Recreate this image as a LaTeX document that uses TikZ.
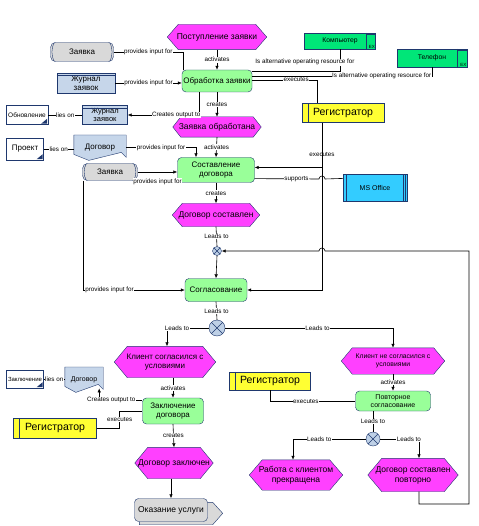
\documentclass[tikz,border=0pt]{standalone}
\usepackage{fontspec}
\setmainfont{Liberation Sans}
\usetikzlibrary{positioning,arrows.meta,calc,backgrounds}

\definecolor{aribord}{RGB}{31,56,110}
\definecolor{evfill}{RGB}{255,64,255}
\definecolor{fnfill}{RGB}{153,255,153}
\definecolor{infofill}{RGB}{198,214,234}
\definecolor{docgray}{RGB}{217,217,217}
\definecolor{hwfill}{RGB}{0,230,120}
\definecolor{orgfill}{RGB}{255,255,51}
\definecolor{swfill}{RGB}{51,204,255}
\definecolor{xorfill}{RGB}{190,208,230}

\begin{document}
\begin{tikzpicture}[
  x=1pt, y=-1pt,
  font=\fontsize{8}{9}\selectfont,
  event/.style={align=center, inner sep=0pt, font=\fontsize{8.5}{10}\selectfont},
  func/.style={draw=aribord, fill=fnfill, rounded corners=4pt, align=center, inner sep=1pt},
  info/.style={draw=aribord, fill=infofill, align=center, inner sep=1pt},
  paper/.style={draw=aribord, fill=docgray, rounded corners=5pt, align=center, inner sep=1pt},
  docnode/.style={align=center, inner sep=1pt},
  screen/.style={draw=aribord, fill=white, align=center, inner sep=1pt, font=\fontsize{6.5}{7}\selectfont},
  hw/.style={draw=aribord, fill=hwfill, align=center, inner sep=1pt, font=\fontsize{6.8}{8}\selectfont},
  org/.style={draw=aribord, fill=orgfill, align=center, inner sep=1pt, font=\fontsize{10.5}{12}\selectfont},
  sw/.style={draw=aribord, fill=swfill, align=center, inner sep=1pt, font=\fontsize{7}{8}\selectfont},
  xor/.style={circle, draw=aribord, fill=xorfill, inner sep=0pt,
              path picture={\draw[aribord] (path picture bounding box.north west) -- (path picture bounding box.south east)
                            (path picture bounding box.north east) -- (path picture bounding box.south west);}},
  lbl/.style={fill=white, inner sep=0.5pt, font=\fontsize{6.3}{7}\selectfont},
  conn/.style={line width=0.6pt},
  arr/.style={conn, -{Latex[length=4pt,width=3.5pt]}},
]
\useasboundingbox (0,0) rectangle (478,526);

% --- Order intake ---
\node[event, minimum width=99pt, minimum height=25pt] (ev1) at (217,37) {Поступление заявки};
\node[func, minimum width=70pt, minimum height=22pt] (f1) at (217,81) {Обработка заявки};
\node[event, minimum width=88pt, minimum height=20pt] (ev2) at (217,127) {Заявка обработана};

\node[paper, minimum width=63pt, minimum height=19pt] (zv1) at (82,52) {Заявка};
\node[info, minimum width=58pt, minimum height=20pt] (zh1) at (86,83) {Журнал\\заявок};
\node[info, minimum width=45pt, minimum height=19pt, font=\fontsize{7.5}{8}\selectfont] (zh2) at (105,115) {Журнал\\заявок};
\node[screen, minimum width=42pt, minimum height=19pt] (obn) at (27,115) {Обновление};

\node[hw, minimum width=71pt, minimum height=16pt] (pc) at (340,41) {Компьютер};
\node[hw, minimum width=70pt, minimum height=18pt] (tel) at (432,58) {Телефон};
\node[org, minimum width=82pt, minimum height=19pt] (reg1) at (343,113) {Регистратор};

% --- Contract ---
\node[func, minimum width=77pt, minimum height=25pt] (f2) at (216,170) {Составление\\договора};
\node[event, minimum width=87pt, minimum height=23pt] (ev3) at (216,215) {Договор составлен};
\node[screen, minimum width=37pt, minimum height=22pt, font=\fontsize{8}{9}\selectfont] (prj) at (25,149) {Проект};
\node[docnode, minimum width=52pt, minimum height=25pt, anchor=north] (dg1) at (100,135) {Договор};
\node[paper, minimum width=55pt, minimum height=17pt] (zv2) at (110,172) {Заявка};
\node[sw, minimum width=64pt, minimum height=27pt] (mso) at (375,188) {MS Office};

\node[xor, minimum size=9pt] (x1) at (217,251) {};
\node[func, minimum width=62pt, minimum height=23pt] (f3) at (216,290) {Согласование};
\node[xor, minimum size=16pt] (x2) at (217,328) {};

% --- Client agreed ---
\node[event, minimum width=101pt, minimum height=31pt, font=\fontsize{8}{9.5}\selectfont] (ev4) at (165,362) {Клиент согласился с\\условиями};
\node[func, minimum width=61pt, minimum height=26pt] (f4) at (173,411) {Заключение\\договора};
\node[event, minimum width=78pt, minimum height=31pt] (ev6) at (174,463) {Договор заключен};
\node[paper, rounded corners=4pt, minimum width=73pt, minimum height=23pt, font=\fontsize{8.5}{10}\selectfont] (f6) at (171,510) {Оказание услуги};
\node[screen, minimum width=37pt, minimum height=18pt, font=\fontsize{6}{7}\selectfont] (zak) at (25,379) {Заключение};
\node[docnode, minimum width=38pt, minimum height=25pt, font=\fontsize{7}{8}\selectfont, anchor=north] (dg2) at (84,367) {Договор};
\node[org, minimum width=83pt, minimum height=20pt] (reg2) at (55,428) {Регистратор};

% --- Client disagreed ---
\node[event, minimum width=103pt, minimum height=26pt, font=\fontsize{6.8}{8}\selectfont] (ev5) at (393,361) {Клиент не согласился с\\условиями};
\node[org, minimum width=81pt, minimum height=18pt] (reg3) at (270,381) {Регистратор};
\node[func, minimum width=75pt, minimum height=20pt, font=\fontsize{7}{8}\selectfont] (f5) at (393,401) {Повторное\\согласование};
\node[xor, minimum size=14pt] (x3) at (373,439) {};
\node[event, minimum width=93pt, minimum height=30pt] (ev7) at (296,475) {Работа с клиентом\\прекращена};
\node[event, minimum width=90pt, minimum height=33pt] (ev8) at (413,475) {Договор составлен\\повторно};

% --- Symbol details ---
\draw[aribord] ([xshift=4pt]zv1.north west) to[bend right=25] ([xshift=4pt]zv1.south west);
\draw[aribord] ([xshift=-4pt]zv1.north east) to[bend left=25] ([xshift=-4pt]zv1.south east);
\draw[aribord] ([xshift=4pt]zv2.north west) to[bend right=25] ([xshift=4pt]zv2.south west);
\draw[aribord] ([xshift=-4pt]zv2.north east) to[bend left=25] ([xshift=-4pt]zv2.south east);
\draw[aribord] ([yshift=-2.5pt]zh1.north west) -- ([yshift=-2.5pt]zh1.north east);
\draw[aribord] ([yshift=-2.5pt]zh2.north west) -- ([yshift=-2.5pt]zh2.north east);
\foreach \s in {obn,prj,zak}
  \fill[aribord] ([xshift=-7pt,yshift=1pt]\s.south east) -- ([xshift=-1pt,yshift=1pt]\s.south east)
                 -- ([xshift=-1pt,yshift=6pt]\s.south east) -- cycle;
\foreach \h in {pc,tel} {
  \draw[aribord] ([xshift=-10pt]\h.north east) -- ([xshift=-10pt]\h.south east);
  \fill[aribord] ([xshift=-10pt]\h.north east) rectangle ([yshift=-2pt]\h.north east);
  \node[font=\fontsize{4.5}{5}\selectfont, anchor=south east, inner sep=0.6pt] at (\h.south east) {EX};
}
\foreach \r in {reg1,reg2,reg3}
  \draw[aribord] ([xshift=6pt]\r.north west) -- ([xshift=6pt]\r.south west);
\draw[aribord] ([xshift=3pt]mso.north west) -- ([xshift=3pt]mso.south west);
\draw[aribord] ([xshift=-4pt]mso.north east) -- ([xshift=-4pt]mso.south east);
\draw[aribord] ([xshift=-2pt]mso.north east) -- ([xshift=-2pt]mso.south east);

\begin{pgfonlayer}{background}
  \fill[white] (0,0) rectangle (478,526);
  \foreach \e/\d in {ev1/11pt,ev2/8pt,ev3/10pt,ev4/13pt,ev5/11pt,ev6/13pt,ev7/13pt,ev8/14pt}
    \filldraw[draw=aribord, fill=evfill] (\e.west) -- ([xshift=\d]\e.north west) -- ([xshift=-\d]\e.north east)
      -- (\e.east) -- ([xshift=-\d]\e.south east) -- ([xshift=\d]\e.south west) -- cycle;
  \foreach \d/\k in {dg1/15pt,dg2/11pt}
    \filldraw[draw=aribord, fill=infofill] (\d.north west) -- (\d.north east) -- ([yshift=3pt]\d.south east)
      -- ([xshift=-5pt,yshift=8pt]\d.south east) -- ([xshift=\k]\d.south west) -- ([yshift=6pt]\d.south west) -- cycle;
  \filldraw[draw=aribord, fill=docgray] ([xshift=5pt,yshift=-4pt]f6.north west) -- ([xshift=5pt,yshift=-4pt]f6.north east)
    -- ([xshift=15pt,yshift=-15pt]f6.north east) -- ([xshift=5pt,yshift=-3pt]f6.south east)
    -- ([xshift=5pt,yshift=-3pt]f6.south west) -- cycle;
\end{pgfonlayer}

\coordinate (hopa) at (325,179);
\coordinate (hopb) at (325,251);
\coordinate (loopc) at (469,504);

% --- Edges ---
\draw[arr] (ev1.south) -- node[lbl]{activates} (f1.north);
\draw[conn] (zv1.east) -| node[lbl, pos=0.25]{provides input for} ([xshift=1pt]f1.north west);
\draw[arr] (zh1.east) -- node[lbl]{provides input for} (zh1.east -| f1.west);
\draw[arr] ([xshift=-18pt]f1.south) |- node[lbl, pos=0.66]{Creates output to} (zh2.east);
\draw[conn] (obn) -- node[lbl]{lies on} (zh2);
\draw[arr] (f1.south) -- node[lbl]{creates} (ev2.north);
\draw[conn] (pc.south) |- node[lbl, pos=0.3, xshift=-35pt]{Is alternative operating resource for} ($(f1.north east)!0.05!(f1.south east)$);
\draw[conn] (tel.south) |- node[lbl, pos=0.64]{Is alternative operating resource for} ($(f1.north east)!0.27!(f1.south east)$);
\draw[conn] ([xshift=-26pt]reg1.north) |- node[lbl, pos=0.66]{executes} ($(f1.north east)!0.45!(f1.south east)$);

\draw[arr] (ev2.south) -- node[lbl]{activates} (f2.north);
\draw[conn] (prj) -- node[lbl]{lies on} (dg1.west |- prj);
\draw[arr] (dg1.east) -| node[lbl, pos=0.25]{provides input for} ([xshift=-20pt]f2.north);
\draw[arr] (zv2.east) -- node[lbl, below=6pt]{provides input for} (zv2.east -| f2.west);
\draw[conn] ($(mso.north west)!0.15!(mso.south west)$) -- (hopa) arc[start angle=0, end angle=180, radius=3pt]
  -- node[lbl, pos=0.35]{supports} ($(f2.north east)!0.84!(f2.south east)$);
\draw[arr] ([xshift=-21pt]reg1.south) |- node[lbl, pos=0.35]{executes} ($(f2.north east)!0.4!(f2.south east)$);
\draw[arr] ([xshift=-21pt]reg1.south) |- (f3.east);
\draw[arr] (f2.south) -- node[lbl]{creates} (ev3.north);

\draw[conn] (ev3.south) -- node[lbl]{Leads to} (x1.north);
\draw[arr] (x1.south) -- (f3.north);
\draw[arr] ([xshift=-27pt]zv2.south) |- node[lbl, pos=0.63]{provides input for} (f3.west);
\draw[conn] (f3.south) -- node[lbl]{Leads to} (x2.north);
\draw[arr] (x2.west) -| node[lbl, pos=0.38]{Leads to} ([xshift=2pt]ev4.north);
\draw[arr] (x2.east) -| node[lbl, pos=0.275]{Leads to} (ev5.north);

\draw[arr] (ev4.south -| f4.north) -- node[lbl]{activates} (f4.north);
\draw[conn] (zak) -- node[lbl]{lies on} (dg2.west |- zak);
\draw[arr] ($(f4.north west)!0.1!(f4.south west)$) -| node[lbl, pos=0.36]{Creates output to} ([xshift=-4pt,yshift=4pt]dg2.south east);
\draw[conn] (reg2.east) -- ++(23,0) |- node[lbl, pos=0.25]{executes} (f4.west);
\draw[arr] (f4.south) -- node[lbl]{creates} (ev6.north);
\draw[arr] (ev6.south -| f6.north) -- (f6.north);

\draw[arr] (ev5.south) -- node[lbl]{activates} (f5.north);
\draw[conn] (reg3.south) |- node[lbl, pos=0.71]{executes} (f5.west);
\draw[conn] (x3.north |- f5.south) -- node[lbl]{Leads to} (x3.north);
\draw[arr] (x3.west) -| node[lbl, pos=0.32]{Leads to} ([xshift=-3pt]ev7.north);
\draw[arr] (x3.east) -| node[lbl, pos=0.37]{Leads to} ([xshift=6pt]ev8.north);
\draw[arr] ([xshift=6pt]ev8.south) |- (loopc) -- (loopc |- x1.east) -- (hopb)
  arc[start angle=0, end angle=180, radius=3pt] -- (x1.east);

\end{tikzpicture}
\end{document}
